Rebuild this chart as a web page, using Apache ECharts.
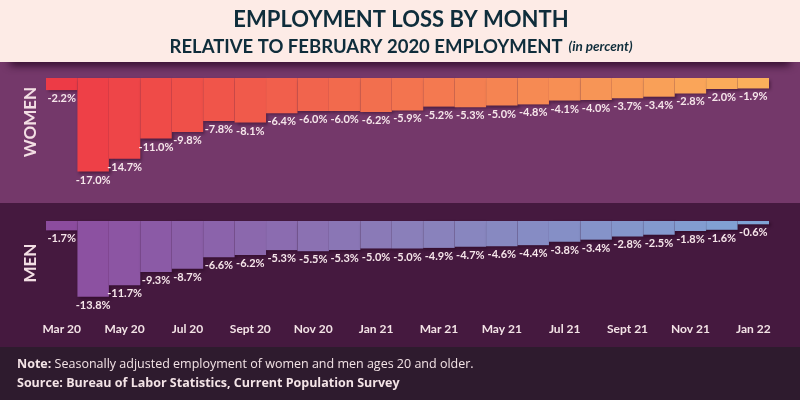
<!DOCTYPE html>
<html>
<head>
<meta charset="utf-8">
<script src="https://cdn.jsdelivr.net/npm/echarts@6/dist/echarts.min.js"></script>
<style>
  html, body { margin: 0; padding: 0; background: #74386a; }
  #chart { width: 800px; height: 400px; }
</style>
</head>
<body>
<div id="chart"></div>
<script>
// 月份
const months = ['Mar 20', 'Apr 20', 'May 20', 'Jun 20', 'Jul 20', 'Aug 20', 'Sept 20', 'Oct 20', 'Nov 20', 'Dec 20',
  'Jan 21', 'Feb 21', 'Mar 21', 'Apr 21', 'May 21', 'Jun 21', 'Jul 21', 'Aug 21', 'Sept 21', 'Oct 21', 'Nov 21', 'Dec 21',
  'Jan 22']
// 女性
const women = [-2.2, -17.0, -14.7, -11.0, -9.8, -7.8, -8.1, -6.4, -6.0, -6.0, -6.2, -5.9,
  -5.2, -5.3, -5.0, -4.8, -4.1, -4.0, -3.7, -3.4, -2.8, -2.0, -1.9]
// 男性
const men = [-1.7, -13.8, -11.7, -9.3, -8.7, -6.6, -6.2, -5.3, -5.5, -5.3, -5.0, -5.0,
  -4.9, -4.7, -4.6, -4.4, -3.8, -3.4, -2.8, -2.5, -1.8, -1.6, -0.6]

const FONT = 'Lato'
const NOTE_FONT = 'Open Sans'
const LIGHT = '#f6e6ea'

// 颜色渐变
function mix(a, b, t) {
  const pa = [1, 3, 5].map(i => parseInt(a.substr(i, 2), 16))
  const pb = [1, 3, 5].map(i => parseInt(b.substr(i, 2), 16))
  return 'rgb(' + pa.map((v, i) => Math.round(v + (pb[i] - v) * t)).join(',') + ')'
}
function ramp(stops) {
  return function (p) {
    const t = p.dataIndex / (months.length - 1)
    const seg = t < 0.5 ? 0 : 1
    const lt = seg === 0 ? t / 0.5 : (t - 0.5) / 0.5
    return mix(stops[seg], stops[seg + 1], lt)
  }
}

const barLabel = {
  show: true,
  position: 'outside',
  distance: 3,
  color: LIGHT,
  fontFamily: FONT,
  fontWeight: 'bold',
  fontSize: 11,
  formatter: p => p.value.toFixed(1) + '%'
}
const barShadow = {
  shadowColor: 'rgba(30,0,25,0.45)',
  shadowBlur: 3,
  shadowOffsetX: 2,
  shadowOffsetY: 2
}

const chart = echarts.init(document.getElementById('chart'))
chart.setOption({
  animation: false,
  graphic: [
    // 背景
    { type: 'rect', z: -10, shape: { x: 0, y: 62, width: 800, height: 141 }, style: { fill: '#74386a' } },
    { type: 'rect', z: -10, shape: { x: 0, y: 203, width: 800, height: 144 }, style: { fill: '#45193f' } },
    { type: 'rect', z: -10, shape: { x: 0, y: 347, width: 800, height: 53 }, style: { fill: '#2e1b2e' } },
    {
      type: 'rect', z: -5, shape: { x: 10, y: 54, width: 780, height: 8 },
      style: { fill: '#2a0a24', shadowColor: 'rgba(30,0,25,0.9)', shadowBlur: 8, shadowOffsetY: 3 }
    },
    { type: 'rect', z: -4, shape: { x: 0, y: 0, width: 800, height: 62 }, style: { fill: '#fdebe6' } },
    // 标题
    {
      type: 'text', z: 10, x: 401, y: 20,
      style: {
        text: 'EMPLOYMENT LOSS BY MONTH', align: 'center', verticalAlign: 'middle',
        fill: '#0f2d3b', font: 'bold 22px ' + FONT
      }
    },
    {
      type: 'text', z: 10, x: 401, y: 47,
      style: {
        text: '{a|RELATIVE TO FEBRUARY 2020 EMPLOYMENT}{b|  (in percent)}', align: 'center', verticalAlign: 'middle',
        fill: '#0f2d3b',
        rich: {
          a: { fontFamily: FONT, fontWeight: 'bold', fontSize: 18.5, fill: '#0f2d3b' },
          b: { fontFamily: FONT, fontWeight: 'bold', fontStyle: 'italic', fontSize: 13.5, fill: '#0f2d3b' }
        }
      }
    },
    // 侧边标签
    {
      type: 'text', z: 10, x: 31, y: 122, rotation: Math.PI / 2,
      style: { text: 'WOMEN', align: 'center', verticalAlign: 'middle', fill: '#f3dfe4', font: 'bold 17px ' + FONT }
    },
    {
      type: 'text', z: 10, x: 31, y: 263, rotation: Math.PI / 2,
      style: { text: 'MEN', align: 'center', verticalAlign: 'middle', fill: '#f3dfe4', font: 'bold 17px ' + FONT }
    },
    // 注释
    {
      type: 'text', z: 10, x: 17, y: 364,
      style: {
        text: '{b|Note:} {r|Seasonally adjusted employment of women and men ages 20 and older.}',
        verticalAlign: 'middle',
        rich: {
          b: { fontFamily: NOTE_FONT, fontWeight: 'bold', fontSize: 12.5, fill: '#f3e3e6' },
          r: { fontFamily: NOTE_FONT, fontSize: 12.5, fill: '#f3e3e6' }
        }
      }
    },
    {
      type: 'text', z: 10, x: 17, y: 383,
      style: {
        text: 'Source: Bureau of Labor Statistics, Current Population Survey',
        verticalAlign: 'middle', fill: '#f3e3e6', font: 'bold 12.5px ' + NOTE_FONT
      }
    }
  ],
  grid: [
    { left: 46, right: 31, top: 78, height: 110 },
    { left: 46, right: 31, top: 221, height: 95 }
  ],
  xAxis: [
    {
      gridIndex: 0, type: 'category', data: months,
      axisLine: { show: false }, axisTick: { show: false }, axisLabel: { show: false }
    },
    {
      gridIndex: 1, type: 'category', data: months,
      axisLine: { show: false }, axisTick: { show: false },
      axisLabel: {
        interval: 1, margin: 7, color: '#f3e3e6',
        fontFamily: FONT, fontWeight: 'bold', fontSize: 12
      }
    }
  ],
  yAxis: [
    { gridIndex: 0, type: 'value', min: -20, max: 0, show: false },
    { gridIndex: 1, type: 'value', min: -17.3, max: 0, show: false }
  ],
  series: [
    {
      name: 'Women', type: 'bar', xAxisIndex: 0, yAxisIndex: 0,
      data: women, barCategoryGap: '0%',
      itemStyle: Object.assign({ color: ramp(['#ed3b46', '#f3744f', '#fbb05b']) }, barShadow),
      label: barLabel
    },
    {
      name: 'Men', type: 'bar', xAxisIndex: 1, yAxisIndex: 1,
      data: men, barCategoryGap: '0%',
      itemStyle: Object.assign({ color: ramp(['#8c4c9e', '#8a7fba', '#80a3d5']) }, barShadow),
      label: barLabel
    }
  ]
})
</script>
</body>
</html>
